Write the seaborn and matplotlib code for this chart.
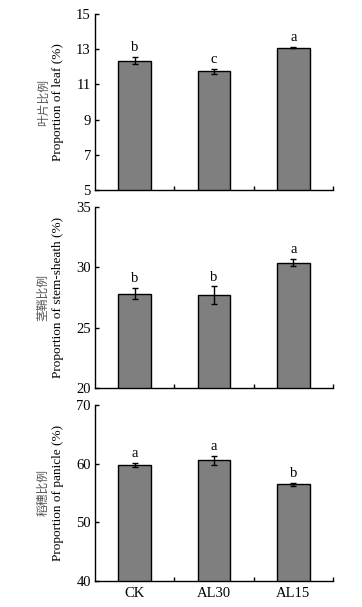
import matplotlib
matplotlib.use("Agg")
import matplotlib.pyplot as plt
import seaborn as sns
import pandas as pd

categories = ["CK", "AL30", "AL15"]
leaf = [12.35, 11.74, 13.09]
leaf_err = [0.2, 0.13, 0.04]
leaf_sig = ["b", "c", "a"]
stem = [27.82, 27.71, 30.38]
stem_err = [0.48, 0.72, 0.3]
stem_sig = ["b", "b", "a"]
panicle = [59.77, 60.57, 56.48]
panicle_err = [0.37, 0.74, 0.3]
panicle_sig = ["a", "a", "b"]

panels = [
    (leaf, leaf_err, leaf_sig, (5, 15), [5, 7, 9, 11, 13, 15], "叶片比例", "Proportion of leaf (%)"),
    (stem, stem_err, stem_sig, (20, 35), [20, 25, 30, 35], "茎鞘比例", "Proportion of stem-sheath (%)"),
    (panicle, panicle_err, panicle_sig, (40, 70), [40, 50, 60, 70], "稻穗比例", "Proportion of panicle (%)"),
]

sns.set_theme(style="white")
plt.rcParams["font.family"] = ["Liberation Serif", "DejaVu Serif"]

fig = plt.figure(figsize=(3.62, 6.07), dpi=100)
W, H = 362, 607
boxes = [(14, 190), (207, 388), (405, 581)]
left_px, right_px = 95, 333

for i, (vals, errs, sigs, ylim, yticks, cn, en) in enumerate(panels):
    top, bot = boxes[i]
    ax = fig.add_axes([left_px / W, 1 - bot / H, (right_px - left_px) / W, (bot - top) / H])
    df = pd.DataFrame({"cat": categories, "val": vals})
    sns.barplot(data=df, x="cat", y="val", ax=ax, color="#7f7f80", saturation=1,
                width=0.41, edgecolor="black", linewidth=1.0, errorbar=None)
    ax.errorbar(range(len(categories)), vals, yerr=errs, fmt="none", ecolor="black",
                elinewidth=1.0, capsize=2.5, capthick=1.0)
    for j, (v, e, s) in enumerate(zip(vals, errs, sigs)):
        ax.annotate(s, (j, v + e), xytext=(0, 2), textcoords="offset points",
                    ha="center", va="bottom", fontsize=10.5, color="black")
    ax.set_xlim(-0.5, 2.5)
    ax.set_ylim(*ylim)
    ax.set_yticks(yticks)
    ax.set_ylabel("")
    ax.set_xlabel("")
    for sp in ["top", "right"]:
        ax.spines[sp].set_visible(False)
    for sp in ["left", "bottom"]:
        ax.spines[sp].set_color("black")
        ax.spines[sp].set_linewidth(1.0)
    ax.tick_params(axis="y", direction="in", length=3, width=1, color="black",
                   labelsize=10.5, labelcolor="black", left=True, pad=3)
    ax.set_xticks([0, 1, 2])
    ax.set_xticks([0.5, 1.5, 2.5], minor=True)
    ax.tick_params(axis="x", which="major", length=0, labelsize=10.5, labelcolor="black", pad=4)
    ax.tick_params(axis="x", which="minor", direction="in", length=3, width=1, color="black", bottom=True)
    if i < 2:
        ax.set_xticklabels([])
    else:
        ax.set_xticklabels(categories)
    cy = 1 - (top + bot) / 2 / H
    fig.text(43 / W, cy, cn, rotation=90, ha="center", va="center", fontsize=8.5,
             color="#555555", family=["Noto Sans CJK SC", "DejaVu Sans"])
    fig.text(58 / W, cy, en, rotation=90, ha="center", va="center", fontsize=9.5, color="black")

fig.savefig("out.png", dpi=100)
